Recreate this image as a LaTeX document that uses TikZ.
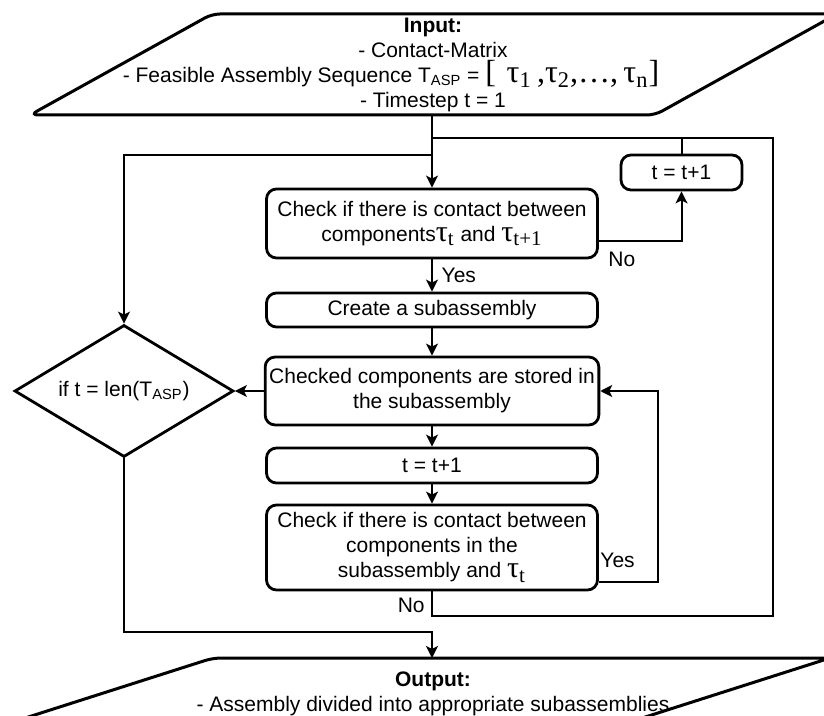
\documentclass[tikz,border=0pt]{standalone}
\usepackage{fontspec}
\setmainfont{Liberation Sans}
\newfontfamily\taufont{Liberation Serif}
\usetikzlibrary{shapes.geometric,arrows.meta}
\newcommand{\tauidx}[1]{{\taufont\fontsize{15}{15}\selectfont τ\textsubscript{#1}}}

\begin{document}
\begin{tikzpicture}[
  x=0.5pt, y=-0.5pt,
  block/.style={rectangle, rounded corners=5pt, draw, line width=1.4pt, minimum width=165.5pt, align=center, inner sep=2pt},
  decision/.style={diamond, aspect=1.66, draw, line width=1.4pt, minimum width=109.5pt, minimum height=66pt, inner sep=0pt},
  io/.style={draw, line width=1.5pt, rounded corners=4pt},
  line/.style={draw, line width=1pt},
  lbl/.style={inner sep=0pt},
  >={Stealth[length=6pt,width=6pt,inset=1.5pt]},
  font=\fontsize{10.5}{12.5}\selectfont
]
\useasboundingbox (0,0) rectangle (824,716);
\clip (0,0) rectangle (824,716);

% input and output
\draw[io] (30,115) -- (212,14) -- (837,14) -- (655,115) -- cycle;
\node[align=center] (input) at (433,65) {\textbf{Input:}\\- Contact-Matrix\\- Feasible Assembly Sequence T\textsubscript{ASP} = {\taufont\fontsize{16}{16}\selectfont[\,\,τ\textsubscript{1}\,,τ\textsubscript{2},…,\,τ\textsubscript{n}]}\hspace{42pt}\mbox{}\\- Timestep t = 1};
\coordinate (inbot) at (432,115);

\draw[io] (-100,758) -- (213,658) -- (830,658) -- (517,758) -- cycle;
\node[align=center] (output) at (433,694) {\textbf{Output:}\\- Assembly divided into appropriate subassemblies};
\coordinate (outtop) at (432,658);

% main column
\node[block, minimum height=34.5pt] (check1) at (432,223.5) {Check if there is contact between\\components\tauidx{t} and \tauidx{t+1}};
\node[block, minimum height=17pt, below of=check1, node distance=43.25pt] (create) {Create a subassembly};
\node[block, minimum height=34pt, below of=create, node distance=40.5pt] (stored) {Checked components are stored in\\the subassembly};
\node[block, minimum height=17.5pt, below of=stored, node distance=37.25pt] (incr) {t = t+1};
\node[block, minimum height=42.5pt, below of=incr, node distance=41pt] (check2) {Check if there is contact between\\components in the\\subassembly and \tauidx{t}};

\node[block, minimum width=60.5pt, minimum height=17.5pt] (incr1) at (681.5,172.5) {t = t+1};
\node[decision] (cond) at (124,391) {if t = len(T\textsubscript{ASP})};

% joins
\coordinate (j1) at (432,138);
\coordinate (j2) at (432,155);
\coordinate (j3) at (432,632);
\coordinate (outR) at (773,616);

\draw[line,->] (inbot) -- (check1);
\draw[line,->] (j2) -| (cond.north);
\draw[line,->] (check1) -- node[right, xshift=1pt] {Yes} (create);
\draw[line,->] (create) -- (stored);
\draw[line,->] (stored) -- (incr);
\draw[line,->] (incr) -- (check2);
\draw[line,->] (stored) -- (cond);
\draw[line,->] ([yshift=-8.75pt]check1.east) -| (incr1.south);
\draw[line] (incr1.north) |- (j1);
\draw[line,->] ([yshift=-17.25pt]check2.east) -- ++(59,0) |- (stored.east);
\draw[line] (check2.south) |- (outR) |- (j1);
\draw[line,->] (cond.south) |- (j3) -- (outtop);

\node[lbl, anchor=west] (no1) at (608,259) {No};
\node[lbl, anchor=west] (yes2) at (600,560) {Yes};
\node[lbl, anchor=east] (no2) at (425,605) {No};
\end{tikzpicture}
\end{document}
